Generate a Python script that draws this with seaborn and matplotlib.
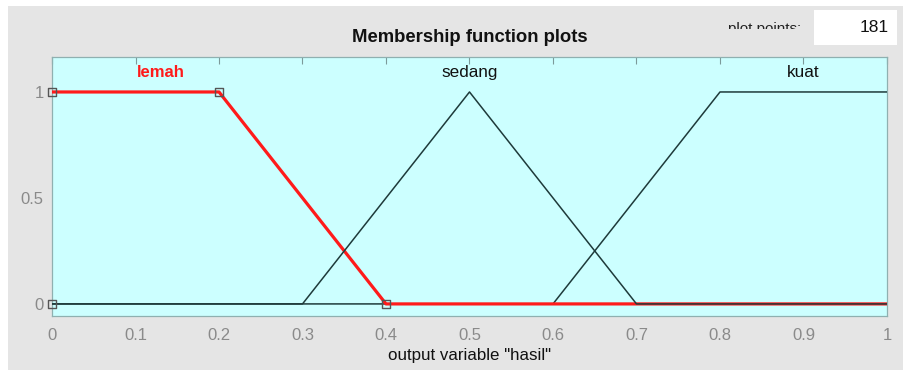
import matplotlib
matplotlib.use("Agg")
import matplotlib.pyplot as plt
import seaborn as sns
import pandas as pd
from matplotlib.patches import Rectangle
from matplotlib.transforms import Bbox

sns.set_theme(style="white")
plt.rcParams["font.family"] = ["Liberation Sans", "DejaVu Sans"]

# membership functions of output variable "hasil"
lemah_x = [0.0, 0.2, 0.4, 1.0]
lemah_y = [1.0, 1.0, 0.0, 0.0]
sedang_x = [0.0, 0.3, 0.5, 0.7, 1.0]
sedang_y = [0.0, 0.0, 1.0, 0.0, 0.0]
kuat_x = [0.0, 0.6, 0.8, 1.0]
kuat_y = [0.0, 0.0, 1.0, 1.0]

# parameter vertices of the selected function (lemah: trapmf [0 0 0.2 0.4])
param_x = [0.0, 0.0, 0.2, 0.4]
param_y = [0.0, 1.0, 1.0, 0.0]

mf_names = ["lemah", "sedang", "kuat"]
label_x = [0.13, 0.5, 0.9]
label_y = [1.092, 1.092, 1.092]

x_ticks = [0, 0.1, 0.2, 0.3, 0.4, 0.5, 0.6, 0.7, 0.8, 0.9, 1]
x_ticklabels = ["0", "0.1", "0.2", "0.3", "0.4", "0.5", "0.6", "0.7", "0.8", "0.9", "1"]
y_ticks = [0, 0.5, 1]
y_ticklabels = ["0", "0.5", "1"]

W, H = 904, 370
fig = plt.figure(figsize=(W / 100, H / 100), dpi=100)
fig.patch.set_facecolor("white")

# grey panel behind everything
fig.patches.append(Rectangle((8 / W, 0), 1 - 8 / W, 1 - 6 / H,
                             transform=fig.transFigure, facecolor="#e5e5e5",
                             edgecolor="none", zorder=-5))

ax = fig.add_axes([52 / W, 1 - 316 / H, (887 - 52) / W, (316 - 57) / H])
ax.set_facecolor("#ccffff")

dark = "#1e3a3a"
red = "#ff1a1a"

df_k = pd.DataFrame({"x": kuat_x, "y": kuat_y})
df_l = pd.DataFrame({"x": lemah_x, "y": lemah_y})
df_s = pd.DataFrame({"x": sedang_x, "y": sedang_y})

sns.lineplot(data=df_k, x="x", y="y", sort=False, estimator=None, ax=ax,
             color=dark, linewidth=1.1, zorder=3)
sns.lineplot(data=df_l, x="x", y="y", sort=False, estimator=None, ax=ax,
             color=red, linewidth=2.3, zorder=4)
sns.lineplot(data=df_s, x="x", y="y", sort=False, estimator=None, ax=ax,
             color=dark, linewidth=1.1, zorder=5)
sns.scatterplot(x=param_x, y=param_y, ax=ax, marker="s", s=40,
                facecolor="none", edgecolor="#555555", linewidth=1.0, zorder=6,
                clip_on=False)

for name, lx, ly in zip(mf_names, label_x, label_y):
    if name == "lemah":
        ax.text(lx, ly, name, color=red, fontsize=12, fontweight="bold",
                ha="center", va="center")
    else:
        ax.text(lx, ly, name, color="#111111", fontsize=12.3,
                ha="center", va="center")

ax.set_xlim(0, 1)
ax.set_ylim(-0.057, 1.165)
ax.set_xticks(x_ticks)
ax.set_xticklabels(x_ticklabels)
ax.set_yticks(y_ticks)
ax.set_yticklabels(y_ticklabels)
ax.tick_params(axis="both", direction="in", length=5, width=0.8,
               color="#7c9a9a", labelcolor="#8a8a8a", labelsize=12,
               top=True)
ax.tick_params(axis="x", pad=9)
ax.tick_params(axis="y", pad=6)
for sp in ax.spines.values():
    sp.set_color("#8fb0b0")
    sp.set_linewidth(0.9)
ax.set_xlabel('output variable "hasil"', fontsize=12.2, color="#111111",
              labelpad=3)
ax.set_ylabel("")

fig.text(470 / W, 1 - 37 / H, "Membership function plots", fontsize=13.3,
         fontweight="bold", ha="center", va="center", color="#111111")

# "plot points" field
t = fig.text(765 / W, 1 - 29 / H, "plot points:", fontsize=11,
             ha="center", va="center", color="#222222")
t.set_clip_box(Bbox.from_extents(0, H - 29, W, H))
t.set_clip_on(True)
fig.patches.append(Rectangle((814 / W, 1 - 45 / H), (897 - 814) / W, 35 / H,
                             transform=fig.transFigure, facecolor="white",
                             edgecolor="none", zorder=1))
fig.text(889 / W, 1 - 28 / H, "181", fontsize=12.5, ha="right", va="center",
         color="#111111")

fig.savefig("out.png", dpi=100, facecolor=fig.get_facecolor())
